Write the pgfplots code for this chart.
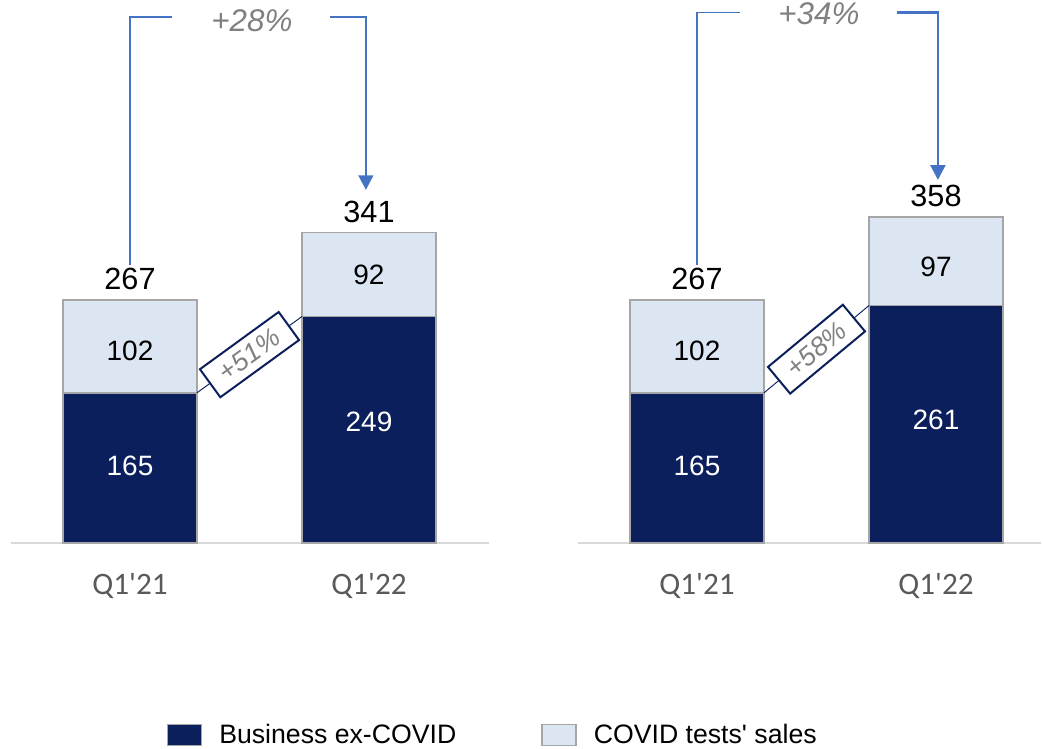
\documentclass[border=0pt]{standalone}
\usepackage{pgfplots}
\pgfplotsset{compat=1.18}
\usepackage{fontspec}
\setmainfont{Liberation Sans}
\newfontfamily\calibri{Carlito}
\usetikzlibrary{arrows.meta}
\definecolor{navy}{HTML}{0A1F5B}
\definecolor{lightb}{HTML}{DCE6F2}
\definecolor{edge}{HTML}{A6A6A6}
\definecolor{arrowb}{HTML}{4472C4}
\definecolor{pgray}{HTML}{808080}
\definecolor{tgray}{HTML}{595959}
\definecolor{axgray}{HTML}{D9D9D9}
\newcommand\ftot{\fontsize{23}{27}\selectfont}
\newcommand\fin{\fontsize{21}{25}\selectfont}
\newcommand\fpct{\fontsize{23.5}{28}\selectfont\itshape}
\newcommand\fpbox{\fontsize{20}{24}\selectfont\itshape}

\pgfplotsset{
 panel/.style={
  x=179.25pt, y=0.6825pt, xmin=-0.5, xmax=1.5, ymin=0, ymax=597,
  anchor=south west, clip=false,
  ybar stacked, bar width=0.56,
  axis x line=bottom, axis y line=none,
  x axis line style={draw=axgray, line width=1.1pt, -},
  xtick={0,1}, xticklabels={Q1\textquotesingle21,Q1\textquotesingle22},
  major tick length=0pt,
  xticklabel style={font=\calibri\fontsize{23.4}{28}\selectfont, text=tgray, yshift=-19pt},
  ytick=\empty,
 },
 sq legend/.style={legend image code/.code={\draw[##1] (0pt,-7.5pt) rectangle (25.5pt,8.25pt);}},
}
\tikzset{pbox/.style={sloped, draw=navy, line width=1.5pt, fill=white, minimum width=73pt, minimum height=26pt, inner sep=0pt, font=\fpbox, text=pgray}}

\begin{document}
\begin{tikzpicture}
\useasboundingbox (0pt,0pt) rectangle (782.25pt,-561.75pt);

% ---------- left panel ----------
\begin{axis}[panel, xmax=1.5, at={(7.875pt,-407.25pt)},
  legend style={at={(0.3264,-0.353)}, anchor=west, draw=none, fill=none,
    inner sep=0pt, font=\fontsize{20}{24}\selectfont,
    nodes={inner sep=0pt},
    /tikz/every odd column/.append style={column sep=12.75pt},
    /tikz/every even column/.append style={column sep=63.75pt}},
  legend columns=2]
\addplot[fill=navy, draw=edge, line width=1.1pt, sq legend] coordinates {(0,165) (1,249)};
\addplot[fill=lightb, draw=edge, line width=1.1pt, sq legend] coordinates {(0,102) (1,92)};
\legend{Business ex-COVID, COVID tests\textquotesingle{} sales}

\coordinate (Lt0) at (axis cs:0,267);
\coordinate (Lt1) at (axis cs:1,341);
\coordinate (Lu0) at (axis cs:0,211);
\coordinate (Ld0) at (axis cs:0,84.5);
\coordinate (Lu1) at (axis cs:1,294.5);
\coordinate (Ld1) at (axis cs:1,133);
\coordinate (La) at (axis cs:0.28,165);
\coordinate (Lb) at (axis cs:0.72,249);
\coordinate (Lp1) at (axis cs:0,305);
\coordinate (Lp2) at (axis cs:0,578);
\coordinate (Lp3) at (axis cs:0.176,578);
\coordinate (Lq1) at (axis cs:0.837,578);
\coordinate (Lq2) at (axis cs:0.987,578);
\coordinate (Lq3) at (axis cs:0.987,388);
\coordinate (Lg) at (axis cs:0.51,562);
\end{axis}

% ---------- right panel ----------
\begin{axis}[panel, xmax=1.44, at={(433.125pt,-407.25pt)}]
\addplot[fill=navy, draw=edge, line width=1.1pt] coordinates {(0,165) (1,261)};
\addplot[fill=lightb, draw=edge, line width=1.1pt] coordinates {(0,102) (1,97)};

\coordinate (Rt0) at (axis cs:0,267);
\coordinate (Rt1) at (axis cs:1,358);
\coordinate (Ru0) at (axis cs:0,211);
\coordinate (Rd0) at (axis cs:0,84.5);
\coordinate (Ru1) at (axis cs:1,303.5);
\coordinate (Rd1) at (axis cs:1,135);
\coordinate (Ra) at (axis cs:0.28,165);
\coordinate (Rb) at (axis cs:0.72,261);
\coordinate (Rp1) at (axis cs:0,305);
\coordinate (Rp2) at (axis cs:0,582.7);
\coordinate (Rp3) at (axis cs:0.18,582.7);
\coordinate (Rq1) at (axis cs:0.837,582.7);
\coordinate (Rq2) at (axis cs:1.008,582.7);
\coordinate (Rq3) at (axis cs:1.008,399);
\coordinate (Rg) at (axis cs:0.51,569.6);
\end{axis}

% ---------- annotations ----------
\foreach \P/\t/\u/\d/\pa/\pb in {L/341/92/249/51/28, R/358/97/261/58/34} {
  \node[font=\ftot, anchor=base, yshift=8pt] at (\P t0) {267};
  \node[font=\ftot, anchor=base, yshift=8pt] at (\P t1) {\t};
  \node[font=\fin, text=black] at (\P u0) {102};
  \node[font=\fin, text=white] at (\P d0) {165};
  \node[font=\fin, text=black] at (\P u1) {\u};
  \node[font=\fin, text=white] at (\P d1) {\d};
  \draw[navy, line width=0.7pt] (\P a) -- node[pbox] {+\pa\%} (\P b);
  \draw[arrowb, line width=0.9pt] (\P p1) -- (\P p2) -- (\P p3);
  \draw[arrowb, line width=2pt, -{Triangle[length=11pt,width=11pt]}] (\P q1) -- (\P q2) -- (\P q3);
  \node[font=\fpct, text=pgray, anchor=base] at (\P g) {+\pb\%};
}
\end{tikzpicture}
\end{document}
